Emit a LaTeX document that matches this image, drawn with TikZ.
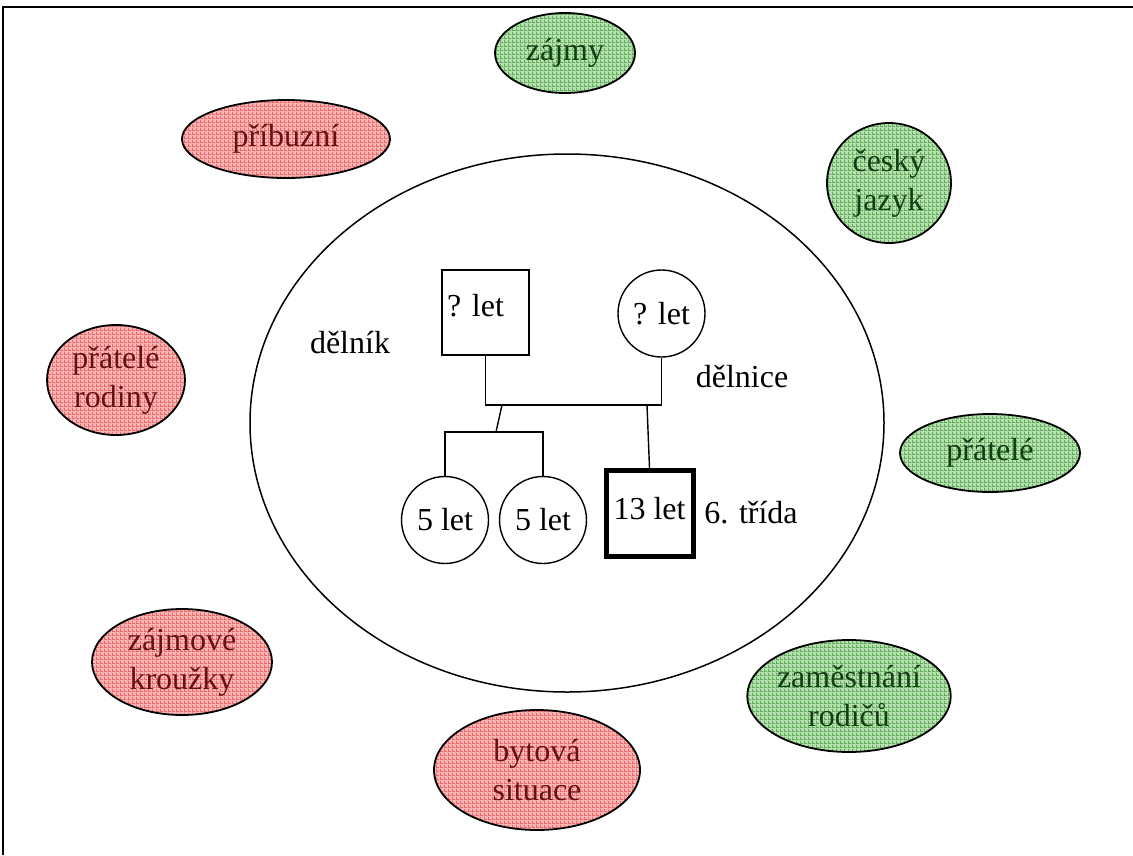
\documentclass[tikz,border=0pt]{standalone}
\usepackage{fontspec}
\setmainfont{Liberation Serif}
\usetikzlibrary{shapes.geometric,patterns.meta}

\definecolor{redbase}{RGB}{250,180,180}
\definecolor{redline}{RGB}{236,106,106}
\definecolor{greenbase}{RGB}{182,224,176}
\definecolor{greenline}{RGB}{96,172,90}
\definecolor{redtext}{RGB}{100,18,18}
\definecolor{greentext}{RGB}{20,62,20}

% fine woven texture for the topic bubbles
\tikzdeclarepattern{
  name=plaid,
  type=uncolored,
  bounding box={(0pt,0pt) and (4pt,4pt)},
  tile size={(4pt,4pt)},
  code={
    \draw[line width=1pt] (0pt,0.5pt) -- (4pt,0.5pt);
    \draw[line width=1pt] (0.5pt,0pt) -- (0.5pt,4pt);
  }
}

\tikzset{
  bub/.style={ellipse, draw, line width=1.8pt, inner sep=0pt, align=center,
    preaction={fill=#1base}, pattern=plaid, pattern color=#1line,
    text=#1text},
  person/.style={draw, line width=1.4pt, inner sep=0pt},
  male/.style={person, rectangle, minimum width=87pt, minimum height=85pt},
  female/.style={person, circle, minimum size=87pt},
  index/.style={male, line width=5pt, minimum width=87pt, minimum height=86pt},
  lbl/.style={inner sep=0pt},
  link/.style={line width=1.4pt},
}

\begin{document}
\begin{tikzpicture}[x=1pt, y=-1pt, font=\fontsize{32}{39}\selectfont]
  \useasboundingbox (0,0) rectangle (1133,855);

  % page frame (left and top edges)
  \draw[line width=1.5pt] (3,855) -- (3,7) -- (1133,7);

  % household
  \node[draw, ellipse, line width=1.5pt, minimum width=634pt, minimum height=538pt] (home) at (567,423) {};

  % surrounding topics
  \node[bub=red, minimum width=208pt, minimum height=78pt] (pribuzni) at (286,139) {příbuzní};
  \node[bub=red, minimum width=138pt, minimum height=110pt] (pratelerod) at (116,380) {přátelé\\rodiny};
  \node[bub=red, minimum width=180pt, minimum height=106pt] (krouzky) at (182,662) {zájmové\\kroužky};
  \node[bub=red, minimum width=206pt, minimum height=120pt] (byt) at (537,770) {bytová\\situace};
  \node[bub=green, minimum width=140pt, minimum height=80pt] (zajmy) at (565,53) {zájmy};
  \node[bub=green, minimum width=124pt, minimum height=120pt] (cj) at (889,183) {český\\jazyk};
  \node[bub=green, minimum width=180pt, minimum height=78pt] (pratele) at (990,453) {přátelé};
  \node[bub=green, minimum width=176pt, minimum height=112pt] (zamest) at (849,696) {zaměstnání\\rodičů};

  % family tree
  \node[male, text depth=14pt] (father) at (485.5,312.5) {\hspace*{-20pt}? let};
  \node[female] (mother) at (661.5,313.5) {? let};
  \node[female] (twin1) at (445,520) {5 let};
  \node[female] (twin2) at (543,520) {5 let};
  \node[index, text depth=10pt] (son) at (649.5,513.5) {13 let};

  \node[lbl] (dfather) at (350,343) {dělník};
  \node[lbl] (dmother) at (742,377) {dělnice};
  \node[lbl] (dson) at (751,513) {6. třída};

  % couple line and descent lines
  \coordinate (bar) at (661.5,405);
  \coordinate (twtop) at (502,405);
  \coordinate (twbar) at (496,432);
  \coordinate (sontop) at (647,405);
  \draw[link] (father.south) |- (bar) -- (mother.south);
  \draw[link] (twtop) -- (twbar);
  \draw[link] (twin1.north) -- (twin1.north |- twbar) -- (twin2.north |- twbar) -- (twin2.north);
  \draw[link] (sontop) -- (son.north);
\end{tikzpicture}
\end{document}
